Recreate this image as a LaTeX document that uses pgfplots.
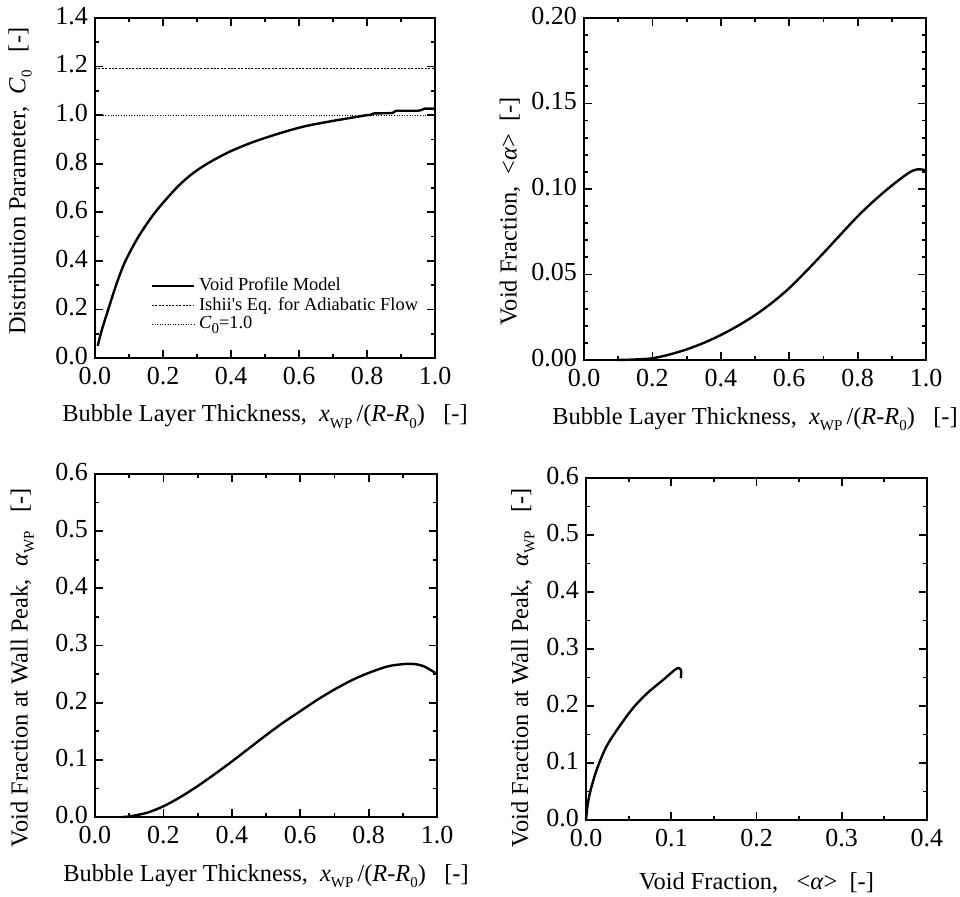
\documentclass[border=0pt]{standalone}
\usepackage{fontspec}
\setmainfont{Liberation Serif}
\usepackage{pgfplots}
\pgfplotsset{compat=1.18}

\newcommand\sub[1]{\raisebox{-0.55ex}{\fontsize{7.5}{8}\selectfont #1}}

\pgfplotsset{
  panel/.style={
    scale only axis,
    axis line style={line width=1.2pt},
    tick align=inside,
    tick style={line width=0.9pt, black},
    major tick length=4pt,
    minor tick length=2pt,
    minor x tick num=1,
    minor y tick num=1,
    xtick pos=both, ytick pos=both,
    tick label style={font=\fontsize{13}{15}\selectfont},
    label style={font=\fontsize{12.2}{14}\selectfont},
    /pgf/number format/assume math mode=true,
    xticklabel style={yshift=-1pt, /pgf/number format/.cd, fixed, fixed zerofill, precision=1},
    yticklabel style={yshift=1pt, /pgf/number format/.cd, fixed, fixed zerofill, precision=1},
    xlabel style={at={(axis description cs:0.5,-0.188)}, anchor=base},
    ylabel style={at={(axis description cs:-0.27,0.5)}, anchor=north, rotate=0},
    clip=false,
  },
  curve/.style={black, line width=1.2pt, no markers},
}

\begin{document}
\begin{tikzpicture}
\path[use as bounding box] (0pt,0pt) rectangle (480pt,-448.5pt);

% top left: distribution parameter
\begin{axis}[panel,
  at={(47.5pt,-179pt)}, anchor=south west,
  width=170pt, height=170pt,
  xmin=0, xmax=1, ymin=0, ymax=1.4,
  xtick={0,0.2,...,1.0}, ytick={0,0.2,...,1.4},
  xlabel={Bubble Layer Thickness,\ \ \textit{x}\sub{WP}\,/(\textit{R}-\textit{R}\sub{0})\ \ \ [-]},
  ylabel={Distribution Parameter,\ \ \textit{C}\sub{0}\ \ \ [-]},
  ylabel style={at={(axis description cs:-0.275,0.52)}},
  legend style={font=\fontsize{9.2}{11}\selectfont, draw=none, fill=none,
    at={(axis description cs:0.145,0.26)}, anchor=north west,
    row sep=-2.3pt},
  legend cell align=left,
  legend image code/.code={\draw[#1] (0pt,0pt) -- (21pt,0pt);},
]
\addplot[curve, smooth] coordinates {
 (0.008,0.05) (0.02,0.115) (0.039,0.2) (0.062,0.3) (0.088,0.395)
 (0.128,0.5) (0.177,0.6) (0.236,0.695) (0.28,0.752) (0.33,0.8)
 (0.40,0.852) (0.487,0.9) (0.62,0.955) (0.80,1.0)
};
\addplot[curve, forget plot] coordinates {
 (0.80,1.0) (0.81,1.001) (0.82,1.007) (0.86,1.008) (0.875,1.009) (0.885,1.018)
 (0.95,1.018) (0.96,1.021) (0.97,1.027) (1.0,1.027)
};
\addplot[black, line width=0.5pt, dash pattern=on 1pt off 0.7pt] coordinates {(0,1.193) (1,1.193)};
\addplot[black, line width=0.5pt, dash pattern=on 0.5pt off 0.8pt] coordinates {(0,1.0) (1,1.0)};
\legend{Void Profile Model, Ishii\textquotesingle s Eq. for Adiabatic Flow, \textit{C}\sub{0}=1.0}
\end{axis}

% top right: mean void fraction
\begin{axis}[panel,
  at={(292pt,-180pt)}, anchor=south west,
  width=171pt, height=171pt,
  xmin=0, xmax=1, ymin=0, ymax=0.2,
  xtick={0,0.2,...,1.0}, ytick={0,0.05,...,0.2},
  minor y tick num=4,
  yticklabel style={/pgf/number format/.cd, fixed, fixed zerofill, precision=2},
  xlabel={Bubble Layer Thickness,\ \ \textit{x}\sub{WP}\,/(\textit{R}-\textit{R}\sub{0})\ \ \ [-]},
  ylabel={Void Fraction,\ \ <\textit{α}>\ \ [-]},
  ylabel style={at={(axis description cs:-0.267,0.435)}},
]
\addplot[curve, smooth] coordinates {
 (0.1,0) (0.15,0.0003) (0.2,0.001) (0.25,0.0032) (0.30,0.0062) (0.35,0.0100)
 (0.40,0.0146) (0.45,0.0200) (0.50,0.0262) (0.55,0.0335) (0.60,0.0420)
 (0.65,0.0520) (0.70,0.0625) (0.75,0.0733) (0.80,0.0840) (0.85,0.0935)
 (0.90,0.1020) (0.95,0.1095) (0.975,0.1115) (1.0,0.111)
};
\end{axis}

% bottom left: wall peak void fraction
\begin{axis}[panel,
  at={(47.5pt,-408.5pt)}, anchor=south west,
  width=171pt, height=171.5pt,
  xmin=0, xmax=1, ymin=0, ymax=0.6,
  xtick={0,0.2,...,1.0}, ytick={0,0.1,...,0.6},
  xlabel={Bubble Layer Thickness,\ \ \textit{x}\sub{WP}\,/(\textit{R}-\textit{R}\sub{0})\ \ \ [-]},
  ylabel={Void Fraction at Wall Peak,\ \ \textit{α}\sub{WP}\ \ \ [-]},
  ylabel style={at={(axis description cs:-0.267,0.435)}},
]
\addplot[curve, smooth] coordinates {
 (0.08,0) (0.1,0.001) (0.15,0.007) (0.2,0.0187) (0.25,0.035) (0.30,0.054)
 (0.35,0.075) (0.4,0.097) (0.45,0.12) (0.50,0.143) (0.55,0.165) (0.6,0.185)
 (0.65,0.205) (0.70,0.223) (0.75,0.239) (0.80,0.252)
 (0.86,0.264) (0.92,0.268) (0.96,0.264) (1.0,0.250)
};
\end{axis}

% bottom right: wall peak vs mean void fraction
\begin{axis}[panel,
  at={(293pt,-410pt)}, anchor=south west,
  width=170.5pt, height=171pt,
  xmin=0, xmax=0.4, ymin=0, ymax=0.6,
  xtick={0,0.1,...,0.4}, ytick={0,0.1,...,0.6},
  xlabel={Void Fraction,\ \ \ <\textit{α}>\ \ [-]},
  xlabel style={at={(axis description cs:0.5,-0.203)}},
  ylabel={Void Fraction at Wall Peak,\ \ \textit{α}\sub{WP}\ \ \ [-]},
  ylabel style={at={(axis description cs:-0.24,0.445)}},
]
\addplot[curve, smooth] coordinates {
 (0,0) (0.002,0.027) (0.005,0.05) (0.0125,0.088)
 (0.024,0.129) (0.04,0.166) (0.0555,0.197) (0.0711,0.2215)
 (0.0906,0.246) (0.1043,0.2635) (0.109,0.2665) (0.1115,0.262)
 (0.1113,0.249)
};
\end{axis}
\end{tikzpicture}
\end{document}
